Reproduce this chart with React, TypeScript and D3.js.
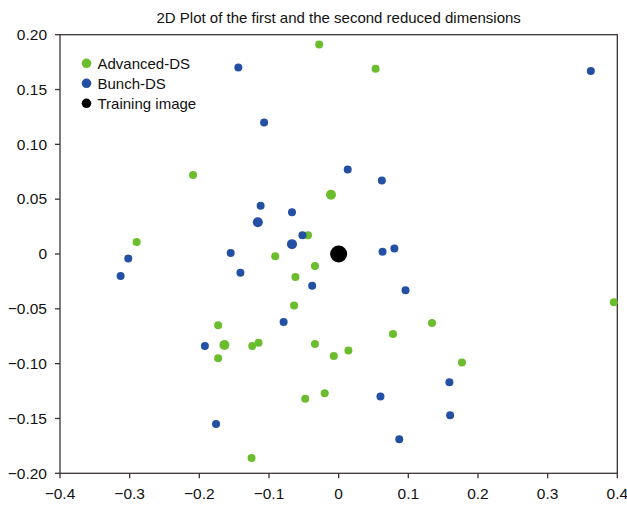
import React from "react";
import * as d3 from "d3";

const W = 627;
const H = 505;

const titleText = "2D Plot of the first and the second reduced dimensions";
const seriesNames = ["Advanced-DS", "Bunch-DS", "Training image"];
const xTicks = [-0.4, -0.3, -0.2, -0.1, 0, 0.1, 0.2, 0.3, 0.4];
const yTicks = [0.2, 0.15, 0.1, 0.05, 0, -0.05, -0.1, -0.15, -0.2];

// Advanced-DS (green)
const advX = [-0.028, 0.053, -0.209, -0.044, -0.29, -0.091, -0.034, -0.062, -0.064, -0.173, -0.124, -0.115, -0.173, -0.034, -0.048, -0.125, 0.395, 0.134, 0.078, 0.014, -0.007, 0.177, -0.02];
const advY = [0.191, 0.169, 0.072, 0.017, 0.011, -0.002, -0.011, -0.021, -0.047, -0.065, -0.084, -0.081, -0.095, -0.082, -0.132, -0.186, -0.044, -0.063, -0.073, -0.088, -0.093, -0.099, -0.127];
const advBigX = [-0.011, -0.164];
const advBigY = [0.054, -0.083];

// Bunch-DS (blue)
const bunX = [-0.144, -0.107, -0.112, -0.067, -0.052, -0.302, -0.155, 0.362, 0.013, 0.062, 0.063, 0.08, -0.313, -0.141, -0.038, -0.079, -0.192, -0.176, 0.096, 0.159, 0.06, 0.16, 0.087];
const bunY = [0.17, 0.12, 0.044, 0.038, 0.017, -0.004, 0.001, 0.167, 0.077, 0.067, 0.002, 0.005, -0.02, -0.017, -0.029, -0.062, -0.084, -0.155, -0.033, -0.117, -0.13, -0.147, -0.169];
const bunBigX = [-0.116, -0.067];
const bunBigY = [0.029, 0.009];

// Training image
const trainX = [0];
const trainY = [0];

const GREEN = "#6bbd2d";
const BLUE = "#2350a3";
const BLACK = "#000000";
const AXIS = "#3a3434";

export default function App() {
  const left = 60, right = 617.3, top = 34.7, bottom = 473.3;
  const x = d3.scaleLinear().domain([-0.4, 0.4]).range([left, right]);
  const y = d3.scaleLinear().domain([-0.2, 0.2]).range([bottom, top]);
  const fmt = (v: number) => {
    if (Math.abs(v) < 1e-9) return "0";
    const s = Math.abs(v).toFixed(1);
    return (v < 0 ? "\u2212" : "") + s;
  };
  const fmtY = (v: number) => {
    if (Math.abs(v) < 1e-9) return "0";
    const s = Math.abs(v).toFixed(2);
    return (v < 0 ? "\u2212" : "") + s;
  };
  const font = "Liberation Sans, Arial, sans-serif";
  const pts = (xs: number[], ys: number[]) => xs.map((v, i) => [v, ys[i]] as [number, number]);
  const legendColors = [GREEN, BLUE, BLACK];

  return (
    <svg width={W} height={H} style={{ position: "absolute", left: 0, top: 0, background: "#fff" }} fontFamily={font}>
      <rect x={0} y={0} width={W} height={H} fill="#fff" />
      <text x={(left + right) / 2} y={23} textAnchor="middle" fontSize={15} fill="#111">{titleText}</text>
      {/* frame */}
      <rect x={left} y={top} width={right - left} height={bottom - top} fill="none" stroke={AXIS} strokeWidth={1.3} />
      {/* x ticks */}
      {xTicks.map((t) => (
        <g key={"x" + t}>
          <line x1={x(t)} x2={x(t)} y1={bottom} y2={bottom + 5} stroke={AXIS} strokeWidth={1.3} />
          <text x={x(t)} y={499} textAnchor="middle" fontSize={15.5} fill="#111">{fmt(t)}</text>
        </g>
      ))}
      {yTicks.map((t) => (
        <g key={"y" + t}>
          <line x1={left - 5} x2={left} y1={y(t)} y2={y(t)} stroke={AXIS} strokeWidth={1.3} />
          <text x={47} y={y(t) + 5.3} textAnchor="end" fontSize={15.5} fill="#111">{fmtY(t)}</text>
        </g>
      ))}
      {pts(advX, advY).map(([a, b], i) => (
        <circle key={"a" + i} cx={x(a)} cy={y(b)} r={4} fill={GREEN} />
      ))}
      {pts(advBigX, advBigY).map(([a, b], i) => (
        <circle key={"ab" + i} cx={x(a)} cy={y(b)} r={5} fill={GREEN} />
      ))}
      {pts(bunX, bunY).map(([a, b], i) => (
        <circle key={"b" + i} cx={x(a)} cy={y(b)} r={4} fill={BLUE} />
      ))}
      {pts(bunBigX, bunBigY).map(([a, b], i) => (
        <circle key={"bb" + i} cx={x(a)} cy={y(b)} r={5} fill={BLUE} />
      ))}
      {pts(trainX, trainY).map(([a, b], i) => (
        <circle key={"t" + i} cx={x(a)} cy={y(b)} r={8.5} fill={BLACK} />
      ))}
      {seriesNames.map((n, i) => (
        <g key={n}>
          <circle cx={86.5} cy={63.3 + i * 20} r={4.8} fill={legendColors[i]} />
          <text x={97.5} y={68.5 + i * 20} fontSize={15} fill="#111">{n}</text>
        </g>
      ))}
    </svg>
  );
}
